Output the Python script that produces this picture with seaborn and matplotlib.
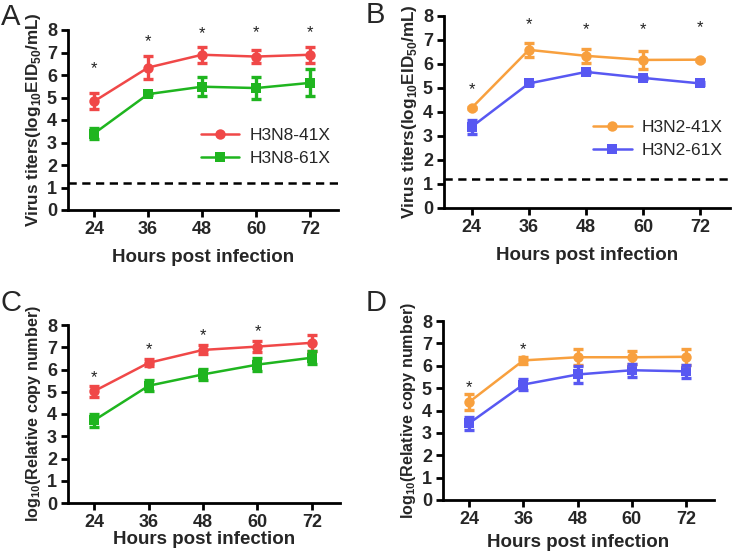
import numpy as np
import pandas as pd
import matplotlib
matplotlib.use("Agg")
import matplotlib.pyplot as plt
import seaborn as sns

sns.set_style("ticks")
plt.rcParams['font.family'] = ['Liberation Sans', 'DejaVu Sans']
plt.rcParams['mathtext.fontset'] = 'custom'
plt.rcParams['mathtext.rm'] = 'Liberation Sans'
plt.rcParams['mathtext.bf'] = 'Liberation Sans:bold'

hours = [24, 36, 48, 60, 72]

# Panel A
a_41 = [4.83, 6.33, 6.90, 6.82, 6.90]
a_41_err = [0.35, 0.50, 0.35, 0.27, 0.35]
a_61 = [3.40, 5.15, 5.48, 5.42, 5.65]
a_61_err = [0.25, 0.06, 0.42, 0.50, 0.60]
a_star_y = [6.30, 7.48, 7.85, 7.90, 7.88]

# Panel B
b_41 = [4.17, 6.59, 6.34, 6.17, 6.18]
b_41_err = [0.04, 0.28, 0.28, 0.38, 0.04]
b_61 = [3.38, 5.19, 5.67, 5.42, 5.19]
b_61_err = [0.28, 0.05, 0.05, 0.05, 0.05]
b_star_y = [4.92, 7.63, 7.42, 7.42, 7.53]

# Panel C
c_41 = [5.03, 6.30, 6.88, 7.03, 7.20]
c_41_err = [0.25, 0.15, 0.20, 0.25, 0.35]
c_61 = [3.72, 5.27, 5.78, 6.22, 6.53]
c_61_err = [0.30, 0.25, 0.25, 0.30, 0.30]
c_star_y = [5.65, 6.88, 7.50, 7.70]

# Panel D
d_41 = [4.38, 6.24, 6.38, 6.38, 6.40]
d_41_err = [0.35, 0.15, 0.35, 0.30, 0.35]
d_61 = [3.43, 5.16, 5.61, 5.80, 5.75]
d_61_err = [0.28, 0.25, 0.40, 0.30, 0.30]
d_star_y = [5.03, 6.72]

detection_limit = 1.22

RED, GREEN = '#F04848', '#1FB51F'
ORANGE, BLUE = '#F8A03E', '#5858F2'

W, H = 733, 556
fig = plt.figure(figsize=(W / 100, H / 100), dpi=100)

def rect(l, r, t, b):
    return [l / W, 1 - b / H, (r - l) / W, (b - t) / H]

axA = fig.add_axes(rect(68, 338, 30, 210))
axB = fig.add_axes(rect(444, 730, 16, 208))
axC = fig.add_axes(rect(68, 340, 325, 503))
axD = fig.add_axes(rect(443, 714, 321, 500))

ylab_titer = r"Virus titers(log$_{\mathbf{10}}$EID$_{\mathbf{50}}$/mL)"
ylab_copy = r"log$_{\mathbf{10}}$(Relative copy number)"

def panel(ax, s1, e1, s2, e2, c1, c2, n1, n2, stars, ylabel, ylsize, dashed,
          legend, legpos, letter, lpos, xpad):
    df = pd.DataFrame({
        'hours': hours * 2,
        'value': s1 + s2,
        'group': [n1] * 5 + [n2] * 5,
    })
    sns.lineplot(data=df, x='hours', y='value', hue='group', style='group',
                 markers={n1: 'o', n2: 's'}, dashes=False,
                 palette={n1: c1, n2: c2}, markersize=7.5, linewidth=1.8,
                 markeredgewidth=0, ax=ax, legend=legend)
    ax.errorbar(hours, s1, yerr=e1, fmt='none', ecolor=c1, elinewidth=2.4,
                capsize=3.5, capthick=2.4, zorder=3)
    ax.errorbar(hours, s2, yerr=e2, fmt='none', ecolor=c2, elinewidth=2.4,
                capsize=3.5, capthick=2.4, zorder=3)
    for x, y in zip(hours, stars):
        ax.text(x, y, '*', ha='center', va='center', fontsize=12, color='#222222')
    if dashed is not None:
        ax.axhline(dashed, color='black', linestyle=(0, (3.3, 2.2)), linewidth=1.8)
    ax.set_xlim(18.2, 78.2)
    ax.set_ylim(0, 8)
    ax.set_xticks(hours)
    ax.set_yticks(range(0, 9))
    for sp in ['top', 'right']:
        ax.spines[sp].set_visible(False)
    for sp in ['left', 'bottom']:
        ax.spines[sp].set_linewidth(2)
        ax.spines[sp].set_color('black')
    ax.tick_params(axis='both', width=2, length=5, color='black', labelsize=13,
                   pad=3)
    for lab in ax.get_xticklabels() + ax.get_yticklabels():
        lab.set_fontweight('bold')
    ax.set_xlabel('Hours post infection', fontsize=13.5, fontweight='bold', labelpad=xpad)
    ax.set_ylabel(ylabel, fontsize=ylsize, fontweight='bold', labelpad=3)
    if legend:
        ax.legend(loc='center right', bbox_to_anchor=legpos, frameon=False,
                  fontsize=12.5, handlelength=2.2, handletextpad=0.6,
                  labelspacing=0.45)
    fig.text(lpos[0] / W, 1 - lpos[1] / H, letter, fontsize=21, ha='left', va='center')

panel(axA, a_41, a_41_err, a_61, a_61_err, RED, GREEN, 'H3N8-41X', 'H3N8-61X',
      a_star_y, ylab_titer, 12.3, detection_limit, 'auto', (1.03, 0.35), 'A', (1, 17), 8)
panel(axB, b_41, b_41_err, b_61, b_61_err, ORANGE, BLUE, 'H3N2-41X', 'H3N2-61X',
      b_star_y, ylab_titer, 12.3, detection_limit, 'auto', (1.03, 0.36), 'B', (366, 15), 8)
panel(axC, c_41, c_41_err, c_61, c_61_err, RED, GREEN, 'H3N8-41X', 'H3N8-61X',
      c_star_y, ylab_copy, 11.6, None, False, None, 'C', (1, 303), 0)
panel(axD, d_41, d_41_err, d_61, d_61_err, ORANGE, BLUE, 'H3N2-41X', 'H3N2-61X',
      d_star_y, ylab_copy, 11.6, None, False, None, 'D', (366, 303), 4)

fig.savefig('out.png', dpi=100)
